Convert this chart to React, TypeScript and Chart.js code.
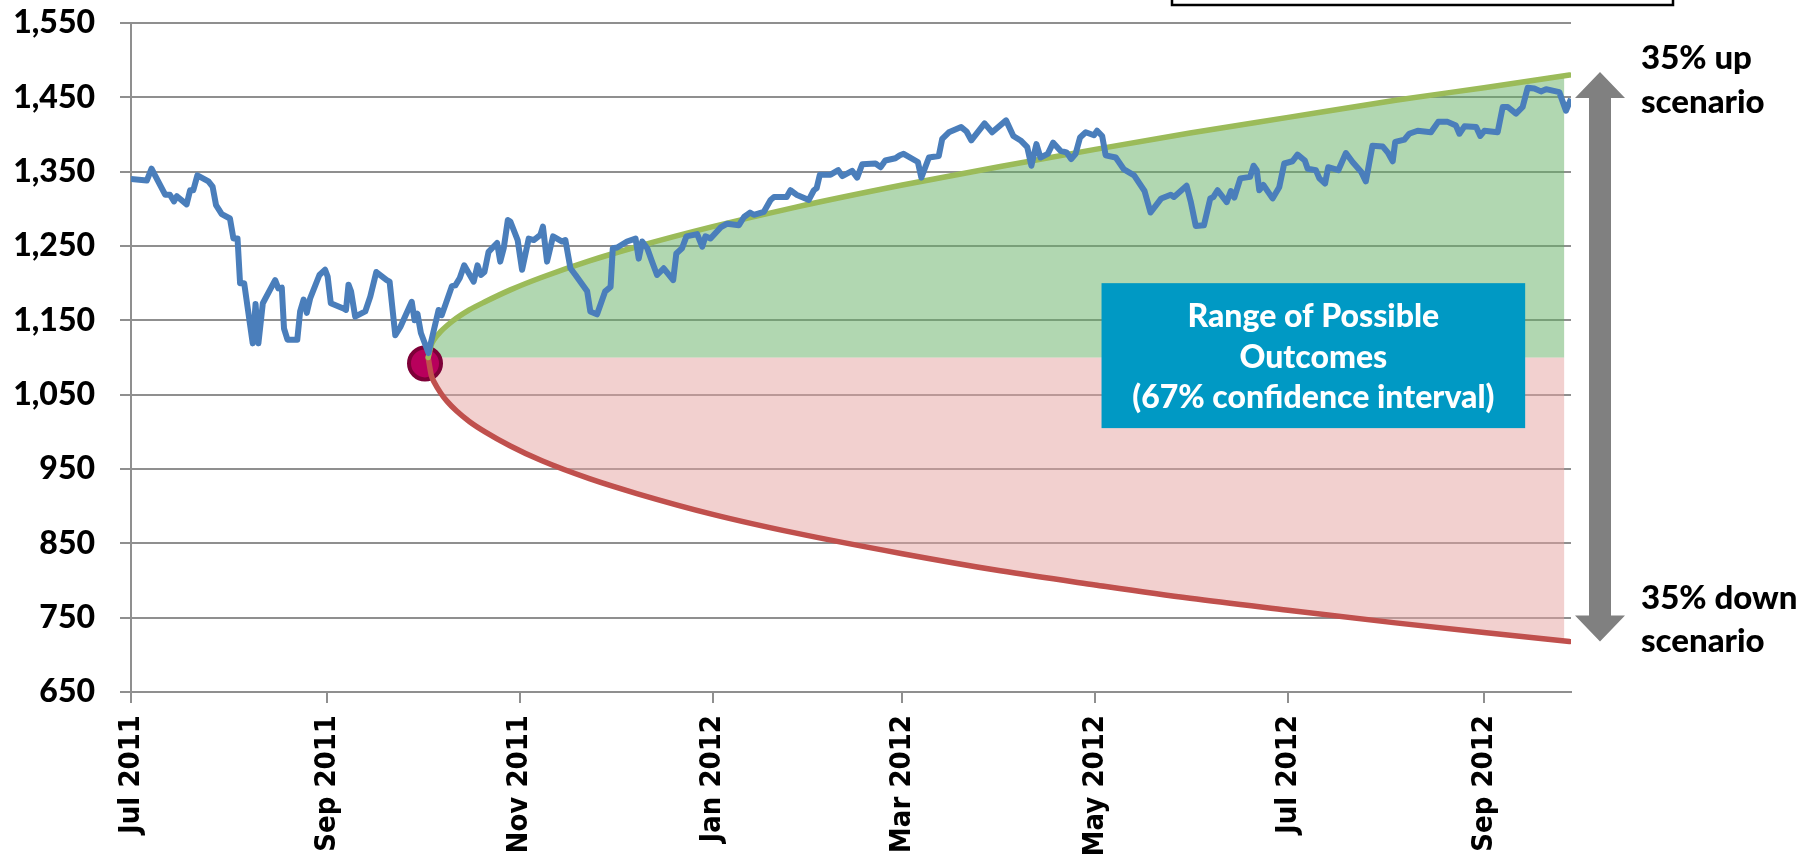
import React, { useEffect, useRef } from "react";
import { Chart, registerables } from "chart.js";

Chart.register(...registerables);

// Days counted from 1 Jul 2011
const tickDays = [0, 62, 123, 184, 244, 305, 366, 428];
const tickLabels = ["Jul 2011", "Sep 2011", "Nov 2011", "Jan 2012", "Mar 2012", "May 2012", "Jul 2012", "Sep 2012"];
const yTicks = [650, 750, 850, 950, 1050, 1150, 1250, 1350, 1450, 1550];

const priceDays = [
  0, 5, 6.5, 7.6, 10.8, 12.3, 13.6, 14.5, 17.6, 18.7, 19.7, 21, 24.5, 25.8, 26.9, 28.7, 31.3, 32.4, 33.7, 34.5,
  35.8, 38.5, 39.4, 40.3, 41.7, 45.6, 46.6, 47.7, 48.4, 49.5, 52.6, 53.5, 54.6, 55.6, 56.7, 59.6, 61.4, 62.2, 63.2, 67.2,
  68, 68.8, 69.6, 70.9, 74.1, 75.7, 77.6, 80.9, 81.8, 83.6, 85.2, 88.8, 89.7, 90.6, 91.7, 94.1, 97.3, 98.3, 101.5, 102.6,
  104, 105.4, 108.4, 109.6, 110.7, 111.8, 113.1, 115.8, 116.8, 117.9, 119.2, 120, 122.3, 123.7, 125.8, 127.4, 129.5, 130.3, 131.6, 133.5,
  136.4, 137.4, 139, 140.6, 144.3, 145.3, 147.4, 150, 151.7, 152.4, 153.8, 156.9, 159.6, 160.6, 161.7, 163.3, 164.8, 166.4, 168.5, 171.5,
  172.5, 174.3, 175.7, 179.1, 180.7, 181.7, 183.3, 186.5, 188.6, 192.3, 193.9, 195.8, 197, 200.2, 202.3, 203.4, 207.4, 208.6, 210.5, 214.4,
  216, 216.9, 217.9, 221.3, 223.7, 225, 228.1, 229.7, 231.3, 235.5, 237.1, 238.6, 241.8, 243.2, 244.4, 248.9, 250, 252.4, 255.5, 256.6,
  258.7, 262.6, 264.3, 265.8, 270, 272.4, 276.8, 279.1, 281.4, 283.5, 284.8, 286.4, 287.7, 290, 291.7, 294, 295.9, 297.4, 298.8, 300.2,
  302, 304.6, 305.6, 307.2, 308.3, 311.5, 314.1, 317.3, 320.6, 322.5, 325.9, 328.9, 329.9, 333.9, 335.2, 336.8, 339.4, 341.4, 342.4, 343.7,
  346.6, 347.9, 349, 350.9, 354, 355.1, 356.1, 356.9, 358.2, 361.1, 363.2, 364.8, 367.4, 369, 371.3, 372.2, 374.8, 375.9, 377.7, 378.7,
  381.9, 384.3, 386.4, 389.1, 390.6, 392.7, 395.9, 397.5, 399.1, 399.9, 402.8, 404.3, 407, 411.2, 413.5, 416.5, 419.1, 420.2, 421.8, 425.5,
  426.8, 428.1, 432.3, 433.9, 435.5, 438.1, 440.2, 441.8, 443.9, 446, 447.6, 451.8, 453.9, 455.5,
];
const priceValues = [
  1340, 1338, 1354, 1345, 1319, 1319, 1310, 1317, 1306, 1325, 1325, 1345, 1337, 1330, 1305, 1293, 1287, 1260, 1260, 1200,
  1200, 1119, 1172, 1119, 1173, 1204, 1193, 1194, 1139, 1124, 1124, 1162, 1178, 1160, 1180, 1211, 1218, 1209, 1173, 1166,
  1164, 1198, 1189, 1155, 1162, 1182, 1215, 1204, 1202, 1130, 1141, 1175, 1150, 1159, 1133, 1106, 1164, 1157, 1196, 1197,
  1207, 1224, 1202, 1224, 1211, 1215, 1242, 1254, 1229, 1247, 1285, 1283, 1258, 1218, 1260, 1258, 1265, 1276, 1229, 1263,
  1256, 1258, 1220, 1211, 1189, 1162, 1158, 1189, 1195, 1247, 1248, 1256, 1260, 1233, 1256, 1247, 1229, 1211, 1220, 1204,
  1240, 1247, 1263, 1266, 1249, 1263, 1260, 1275, 1280, 1278, 1289, 1295, 1292, 1296, 1312, 1316, 1316, 1325, 1319, 1312,
  1325, 1328, 1346, 1346, 1352, 1344, 1351, 1342, 1360, 1361, 1356, 1365, 1368, 1372, 1374, 1363, 1342, 1369, 1371, 1394,
  1403, 1410, 1404, 1392, 1415, 1403, 1419, 1398, 1392, 1383, 1358, 1387, 1369, 1374, 1389, 1378, 1376, 1367, 1374, 1396,
  1403, 1399, 1405, 1398, 1372, 1369, 1353, 1345, 1324, 1295, 1314, 1319, 1316, 1331, 1310, 1277, 1278, 1314, 1316, 1325,
  1309, 1324, 1315, 1341, 1343, 1358, 1352, 1325, 1332, 1314, 1329, 1361, 1364, 1373, 1365, 1354, 1352, 1341, 1334, 1356,
  1352, 1375, 1363, 1350, 1337, 1385, 1384, 1376, 1364, 1390, 1393, 1401, 1405, 1403, 1417, 1417, 1412, 1401, 1411, 1410,
  1398, 1405, 1403, 1437, 1437, 1428, 1437, 1463, 1462, 1458, 1461, 1457, 1432, 1448,
];

const fanDays = [94, 95, 96, 98, 100, 103, 107, 112, 120, 130, 145, 160, 184, 210, 244, 275, 305, 335, 366, 400, 428, 455];
const upValues = [1100, 1117, 1125, 1135, 1143, 1153, 1164, 1175, 1191, 1208, 1230, 1249, 1276, 1302, 1332, 1357, 1380, 1402, 1423, 1446, 1463, 1480];
const downValues = [1100, 1076, 1066, 1052, 1041, 1028, 1014, 1000, 981, 961, 937, 917, 889, 864, 836, 813, 794, 776, 760, 743, 730, 718];

const fillDays = [94, 95, 96, 98, 100, 103, 107, 112, 120, 130, 145, 160, 184, 210, 244, 275, 305, 335, 366, 400, 428, 453.4];
const fillUpValues = [1100, 1117, 1125, 1135, 1143, 1153, 1164, 1175, 1191, 1208, 1230, 1249, 1276, 1302, 1332, 1357, 1380, 1402, 1423, 1446, 1463, 1479];
const fillDownValues = [1100, 1076, 1066, 1052, 1041, 1028, 1014, 1000, 981, 961, 937, 917, 889, 864, 836, 813, 794, 776, 760, 743, 730, 719];
const fillBase = 1100;

const startDay = [93];
const startValue = [1092];

const boxDays = [307, 441];
const boxValues = [1005, 1200];
const boxLines = ["Range of Possible", "Outcomes", "(67% confidence interval)"];

const GRID = "#8f8f8f";
const CAL = "Lato, 'Open Sans', sans-serif";

const pts = (xs: number[], ys: number[]) => xs.map((x, i) => ({ x, y: ys[i] }));

const overlay = {
  id: "overlay",
  afterDraw(chart: any) {
    const { ctx, chartArea } = chart;
    const xs = chart.scales.x;
    const ys = chart.scales.y;
    ctx.save();
    // top partial legend box
    ctx.strokeStyle = "#000";
    ctx.lineWidth = 2.5;
    ctx.strokeRect(1172, -10, 501, 15);

    // annotation box
    const bx0 = xs.getPixelForValue(boxDays[0]);
    const bx1 = xs.getPixelForValue(boxDays[1]);
    const by0 = ys.getPixelForValue(boxValues[1]);
    const by1 = ys.getPixelForValue(boxValues[0]);
    ctx.fillStyle = "#0099c4";
    ctx.fillRect(bx0, by0, bx1 - bx0, by1 - by0);
    ctx.fillStyle = "#fff";
    ctx.font = `900 32px ${CAL}`;
    ctx.textAlign = "center";
    ctx.textBaseline = "middle";
    const cx = (bx0 + bx1) / 2;
    const cy = (by0 + by1) / 2 + 2;
    boxLines.forEach((t, i) => ctx.fillText(t, cx, cy + (i - 1) * 40.5));

    // double arrow
    const ax = chartArea.right + 29;
    const top = ys.getPixelForValue(upValues[upValues.length - 1]) - 3;
    const bot = ys.getPixelForValue(downValues[downValues.length - 1]);
    const hh = 26, hw = 25, sw = 11;
    ctx.fillStyle = "#808080";
    ctx.beginPath();
    ctx.moveTo(ax, top);
    ctx.lineTo(ax + hw, top + hh);
    ctx.lineTo(ax + sw, top + hh);
    ctx.lineTo(ax + sw, bot - hh);
    ctx.lineTo(ax + hw, bot - hh);
    ctx.lineTo(ax, bot);
    ctx.lineTo(ax - hw, bot - hh);
    ctx.lineTo(ax - sw, bot - hh);
    ctx.lineTo(ax - sw, top + hh);
    ctx.lineTo(ax - hw, top + hh);
    ctx.closePath();
    ctx.fill();

    // scenario labels
    ctx.fillStyle = "#000";
    ctx.font = `900 33px ${CAL}`;
    ctx.textAlign = "left";
    ctx.textBaseline = "middle";
    const tx = chartArea.right + 70;
    ctx.fillText("35% up", tx, top - 14);
    ctx.fillText("scenario", tx, top + 30);
    ctx.fillText("35% down", tx, bot - 43);
    ctx.fillText("scenario", tx, bot);
    ctx.restore();
  },
};

export default function App() {
  const ref = useRef<HTMLCanvasElement | null>(null);
  useEffect(() => {
    if (!ref.current) return;
    const chart = new Chart(ref.current, {
      type: "line",
      data: {
        datasets: [
          {
            label: "S&P 500",
            data: pts(priceDays, priceValues),
            borderColor: "#4a7ebb",
            borderWidth: 6,
            pointRadius: 0,
            tension: 0,
            fill: false,
            order: 1,
            borderJoinStyle: "round",
          },
          {
            label: "Up",
            data: pts(fanDays, upValues),
            borderColor: "#9bbb59",
            borderWidth: 5.5,
            pointRadius: 0,
            cubicInterpolationMode: "monotone",
            fill: false,
            order: 2,
            borderCapStyle: "round",
          },
          {
            label: "Down",
            data: pts(fanDays, downValues),
            borderColor: "#c0504d",
            borderWidth: 5.5,
            pointRadius: 0,
            cubicInterpolationMode: "monotone",
            fill: false,
            order: 3,
            borderCapStyle: "round",
          },
          {
            label: "Start",
            data: pts(startDay, startValue),
            showLine: false,
            pointRadius: 16,
            pointBackgroundColor: "#b8005c",
            pointBorderColor: "#7e0038",
            pointBorderWidth: 4,
            order: 4,
          },
          {
            label: "UpFill",
            data: pts(fillDays, fillUpValues),
            borderWidth: 0,
            pointRadius: 0,
            cubicInterpolationMode: "monotone",
            backgroundColor: "rgba(100,175,100,0.5)",
            fill: { value: fillBase },
            order: 5,
          },
          {
            label: "DownFill",
            data: pts(fillDays, fillDownValues),
            borderWidth: 0,
            pointRadius: 0,
            cubicInterpolationMode: "monotone",
            backgroundColor: "rgba(230,162,160,0.5)",
            fill: { value: fillBase },
            order: 6,
          },
        ],
      },
      options: {
        animation: false,
        responsive: false,
        devicePixelRatio: 1,
        layout: { padding: { top: 23, right: 247, bottom: 0, left: 0 } },
        plugins: { legend: { display: false }, tooltip: { enabled: false } },
        scales: {
          x: {
            type: "linear",
            min: 0,
            max: 455.5,
            afterBuildTicks: (s: any) => {
              s.ticks = tickDays.map((v) => ({ value: v }));
            },
            afterFit: (s: any) => {
              s.height = 175;
            },
            ticks: {
              autoSkip: false,
              maxRotation: 90,
              minRotation: 90,
              padding: 12,
              color: "#000",
              font: { family: "'DejaVu Sans Condensed', 'DejaVu Sans', sans-serif", weight: "bold", size: 29 },
              callback: (_v: any, i: number) => tickLabels[i],
            },
            grid: { drawOnChartArea: false, drawTicks: true, tickLength: 11, color: GRID, lineWidth: 2 },
            border: { display: true, color: GRID, width: 2 },
          },
          y: {
            type: "linear",
            min: 650,
            max: 1550,
            afterBuildTicks: (s: any) => {
              s.ticks = yTicks.map((v) => ({ value: v }));
            },
            afterFit: (s: any) => {
              s.width = 131;
              s.paddingTop = 0;
              s.paddingBottom = 0;
            },
            ticks: {
              padding: 25,
              color: "#000",
              font: { family: CAL, weight: "900", size: 32 },
              callback: (v: any) => Number(v).toLocaleString("en-US"),
            },
            grid: { color: GRID, lineWidth: 2, tickLength: 11 },
            border: { display: true, color: GRID, width: 2 },
          },
        },
      },
      plugins: [overlay],
    } as any);
    return () => chart.destroy();
  }, []);
  return (
    <div style={{ position: "fixed", left: 0, top: 0, width: 1818, height: 867, background: "#fff" }}>
      <canvas ref={ref} width={1818} height={867} style={{ width: 1818, height: 867, display: "block" }} />
    </div>
  );
}
